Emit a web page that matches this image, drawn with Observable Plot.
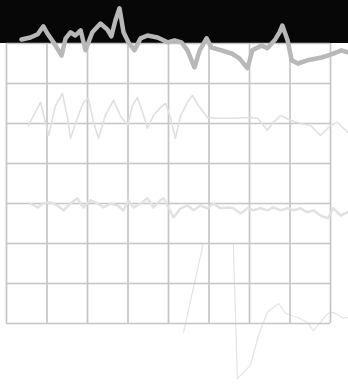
<!DOCTYPE html>
<html>
<head>
<meta charset="utf-8">
<script src="https://cdn.jsdelivr.net/npm/d3@7"></script>
<script src="https://cdn.jsdelivr.net/npm/@observablehq/plot@0.6"></script>
<style>
  html, body { margin: 0; padding: 0; background: #ffffff; }
  #chart svg { display: block; }
</style>
</head>
<body>
<div id="chart"></div>
<script>
// Grid divisions (one unit per cell)
const xTicks = [0, 1, 2, 3, 4, 5, 6, 7, 8];
const yTicks = [0, 1, 2, 3, 4, 5, 6, 7];
const xDomain = [-0.148, 8.444];
const yDomain = [-1.65, 8.075];

// Trace 1 (top, heavy)
const t1x = [0.37,0.59,0.77,0.91,1.01,1.16,1.36,1.46,1.58,1.70,1.83,1.95,2.12,2.32,2.49,2.59,2.69,2.79,2.89,3.01,3.16,3.31,3.48,3.73,3.98,4.15,4.32,4.47,4.64,4.77,4.94,5.06,5.31,5.56,5.75,5.95,6.07,6.30,6.44,6.62,6.74,6.81,6.94,7.04,7.19,7.43,7.78,8.02,8.27,8.42];
const t1y = [7.10,7.15,7.23,7.43,7.25,7.03,6.70,7.13,7.28,7.20,7.33,6.83,7.28,7.50,7.35,7.18,7.58,7.88,7.28,7.03,6.83,7.13,7.20,7.15,7.03,7.08,7.03,6.83,6.40,6.83,7.13,6.90,6.83,6.75,6.63,6.38,6.83,6.95,6.88,7.08,7.28,7.45,7.08,6.58,6.50,6.58,6.65,6.73,6.83,6.78];

// Trace 2 (oscillating)
const t2x = [0.54,0.84,1.04,1.21,1.38,1.51,1.58,1.75,1.90,2.02,2.15,2.27,2.44,2.64,2.81,2.99,3.11,3.23,3.36,3.48,3.63,3.80,3.93,4.05,4.17,4.30,4.47,4.59,4.74,4.96,5.21,5.60,6.02,6.20,6.44,6.59,6.77,7.01,7.26,7.51,7.75,8.00,8.17,8.42];
const t2y = [4.95,5.53,4.70,5.45,5.75,5.13,4.63,5.13,5.53,5.63,5.03,4.63,5.20,5.58,5.20,4.95,5.45,5.65,5.28,4.88,5.20,5.40,5.50,5.13,4.63,5.20,5.53,5.70,5.45,5.15,5.13,5.13,5.15,5.13,4.83,5.03,5.20,5.08,5.00,4.95,4.70,4.95,5.03,4.78];

// Trace 3 (noisy baseline)
const t3x = [0.59,0.77,0.91,1.09,1.26,1.41,1.58,1.75,1.90,2.07,2.25,2.40,2.57,2.74,2.89,3.01,3.14,3.31,3.48,3.63,3.80,3.88,4.00,4.12,4.30,4.47,4.62,4.79,4.96,5.11,5.28,5.46,5.60,5.78,5.95,6.10,6.27,6.44,6.59,6.77,6.94,7.09,7.26,7.43,7.58,7.75,7.93,8.07,8.25,8.42];
const t3y = [3.00,2.90,3.00,3.03,2.95,2.83,3.00,3.13,2.90,3.08,3.00,2.90,3.00,2.95,2.83,3.08,2.90,3.00,3.13,2.90,3.08,3.13,2.90,2.65,2.88,2.95,2.83,2.95,2.88,3.00,2.88,2.90,2.88,2.75,2.88,2.83,2.88,2.83,2.90,2.83,2.88,2.83,2.88,2.78,2.83,2.70,2.63,2.88,2.70,2.78];

// Trace 4 (faint, large swing)
const t4x = [4.37,4.86,5.23,5.60,5.70,6.02,6.22,6.44,6.72,6.89,7.19,7.43,7.58,7.75,7.93,8.07,8.32,8.42];
const t4y = [-0.23,2.00,2.00,2.00,-1.38,-1.05,-0.30,0.28,0.50,0.25,0.15,0.03,-0.18,0.03,0.25,0.28,0.13,0.15];

// Dark header band above the grid
const bandFrom = [7];

const zip = (xs, ys) => xs.map((x, i) => ({x, y: ys[i]}));

const chart = Plot.plot({
  width: 348,
  height: 389,
  margin: 0,
  x: {domain: xDomain, axis: null},
  y: {domain: yDomain, axis: null},
  style: {background: "#ffffff"},
  marks: [
    Plot.rect(bandFrom, {x1: xDomain[0], x2: xDomain[1], y1: d => d, y2: yDomain[1], fill: "#070707"}),
    Plot.line(zip(t4x, t4y), {x: "x", y: "y", stroke: "#e4e4e4", strokeWidth: 1.2, curve: "linear"}),
    Plot.ruleX(xTicks, {x: d => d, y1: yTicks[0], y2: yTicks[yTicks.length - 1], stroke: "#c6c6c6", strokeWidth: 1.7}),
    Plot.ruleY(yTicks, {y: d => d, x1: xTicks[0], x2: xTicks[xTicks.length - 1], stroke: "#c6c6c6", strokeWidth: 1.7}),
    Plot.line(zip(t3x, t3y), {x: "x", y: "y", stroke: "#e2e2e2", strokeWidth: 2.5, curve: "linear"}),
    Plot.line(zip(t2x, t2y), {x: "x", y: "y", stroke: "#e0e0e0", strokeWidth: 1.6, curve: "linear"}),
    Plot.line(zip(t1x, t1y), {x: "x", y: "y", stroke: "#b8b8b8", strokeWidth: 4.5, curve: "linear", strokeLinejoin: "round", strokeLinecap: "round"})
  ]
});

document.getElementById("chart").appendChild(chart);
</script>
</body>
</html>
